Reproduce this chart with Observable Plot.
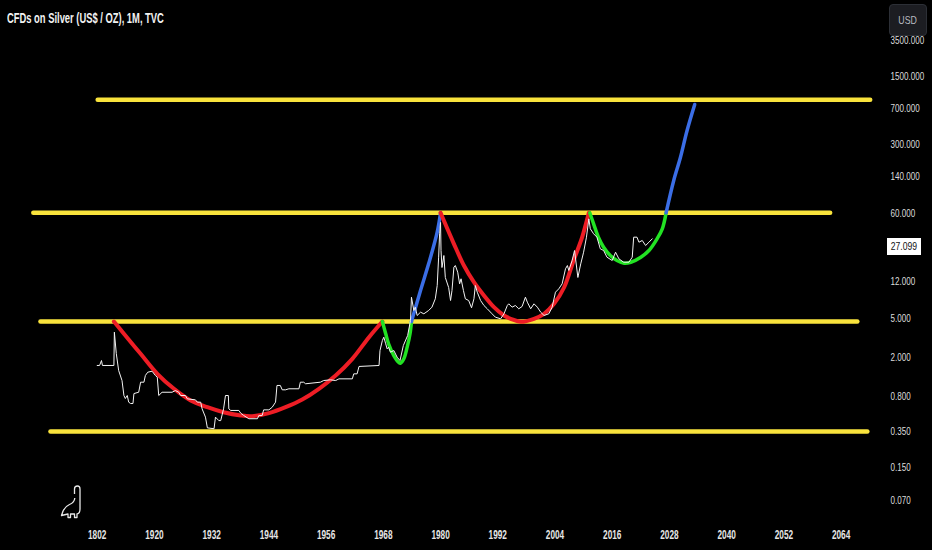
<!DOCTYPE html>
<html>
<head>
<meta charset="utf-8">
<script src="https://cdn.jsdelivr.net/npm/d3@7"></script>
<script src="https://cdn.jsdelivr.net/npm/@observablehq/plot@0.6"></script>
<style>
  html, body { margin: 0; padding: 0; background: #000; }
  #wrap { position: relative; width: 932px; height: 550px; overflow: hidden; background: #000; }
  #title { position: absolute; left: 7px; top: 10px; color: #f2f2f2; font: 600 14px "Liberation Sans", Arial, sans-serif; white-space: nowrap; transform: scaleX(0.67); transform-origin: left center; }
  #usd { position: absolute; left: 889px; top: 4px; width: 38px; height: 32px; box-sizing: border-box; background: #1c1d22; border: 1px solid #2c2f36; border-radius: 4px; color: #b8bac0; font: 11px "Liberation Sans", Arial, sans-serif; display: flex; align-items: center; justify-content: center; }
  #usd span { display: inline-block; transform: scaleX(0.8); }
  #last { position: absolute; left: 887px; width: 34px; height: 17px; background: #fff; color: #111; font: 11px "Liberation Sans", Arial, sans-serif; display: flex; align-items: center; justify-content: center; }
  #last span { display: inline-block; transform: scaleX(0.78); }
  #dino { position: absolute; left: 0; top: 0; }
</style>
</head>
<body>
<div id="wrap"></div>
<script>
// ---- axis ticks ----
const xTickYears = [1908, 1920, 1932, 1944, 1956, 1968, 1980, 1992, 2004, 2016, 2028, 2040, 2052, 2064];
const xTickLabels = ["1802", "1920", "1932", "1944", "1956", "1968", "1980", "1992", "2004", "2016", "2028", "2040", "2052", "2064"];
const yTicks = [0.07, 0.15, 0.35, 0.8, 2, 5, 12, 60, 140, 300, 700, 1500, 3500];
const lastPrice = 27.099;

// ---- monthly silver price (approx.) ----
const silverYear = [1908.0,1908.5,1908.9,1909.1,1911.5,1911.6,1912.0,1912.5,1913.2,1913.6,
1913.9,1914.3,1914.6,1915.0,1915.5,1915.7,1916.7,1917.1,1917.8,1918.1,
1918.6,1919.5,1920.2,1920.6,1920.9,1921.6,1923.7,1924.4,1925.1,1925.5,
1926.5,1926.9,1928.6,1929.0,1929.7,1930.0,1930.7,1931.1,1932.5,1932.8,
1933.5,1933.9,1934.5,1934.9,1935.5,1935.6,1936.0,1937.7,1938.1,1938.7,
1939.8,1941.6,1941.9,1942.6,1942.9,1944.0,1944.7,1945.4,1945.7,1946.4,
1946.8,1947.5,1948.2,1950.3,1950.6,1951.3,1951.7,1954.8,1955.5,1956.9,
1958.0,1958.7,1961.5,1961.8,1962.5,1962.9,1967.1,1967.3,1967.8,1968.1,
1968.5,1968.8,1969.1,1969.5,1970.2,1970.9,1971.5,1972.2,1973.1,1973.7,
1973.9,1974.4,1974.7,1975.1,1975.8,1976.5,1977.5,1978.2,1978.9,1979.3,
1979.6,1979.8,1980.0,1980.1,1980.3,1980.7,1981.0,1981.7,1982.1,1982.4,
1982.8,1983.1,1983.6,1984.0,1984.3,1984.8,1985.2,1985.9,1986.5,1987.0,
1987.3,1987.7,1988.4,1989.1,1989.8,1990.8,1991.5,1992.6,1993.3,1994.0,
1994.3,1995.0,1995.7,1996.4,1997.1,1997.8,1998.2,1998.9,1999.6,2000.3,
2001.0,2001.7,2002.7,2003.4,2004.1,2004.8,2005.5,2006.2,2006.6,2006.9,
2007.6,2008.1,2008.8,2009.4,2010.0,2010.6,2011.1,2011.4,2012.1,2012.8,
2013.5,2014.2,2014.9,2016.0,2016.7,2017.4,2018.4,2019.5,2020.2,2020.5,
2021.2,2021.6,2022.3,2023.0,2023.7,2024.4];
const silverPrice = [1.665,1.665,1.871,1.665,1.665,3.643,2.207,1.479,1.169,0.822,
0.7656,0.822,0.703,0.6814,0.6814,0.8606,0.8877,1.124,1.124,1.316,
1.422,1.455,1.316,1.265,0.822,0.8877,0.8877,0.9242,0.8877,0.822,
0.822,0.7598,0.7422,0.703,0.703,0.6004,0.4943,0.3843,0.3761,0.4943,
0.4558,0.4558,0.6004,0.822,0.822,0.6004,0.5785,0.5785,0.5426,0.5143,
0.4761,0.4761,0.5143,0.5143,0.5864,0.5864,0.6241,0.703,1.041,1.041,
0.9395,0.9395,0.9625,0.9625,1.124,1.124,1.083,1.124,1.169,1.188,
1.169,1.216,1.216,1.368,1.368,1.627,1.665,2.367,2.996,3.239,
2.771,2.464,2.559,2.275,2.367,2.023,1.871,2.664,3.370,4.794,
8.287,6.066,6.559,5.393,5.830,5.610,6.066,6.559,7.984,10.91,
21.23,36.79,48.02,24.85,16.66,22.08,13.18,10.41,7.671,9.704,
16.79,17.46,14.93,11.36,12.78,9.704,7.984,7.671,6.463,7.984,
10.91,9.325,7.671,6.821,6.313,5.610,5.184,4.989,5.610,6.821,
7.096,6.559,6.821,6.313,6.664,8.294,7.371,6.313,7.096,6.559,
5.830,5.393,5.610,6.559,9.325,10.10,11.36,16.16,17.46,15.53,
19.65,24.85,13.18,18.16,23.87,33.99,52.35,41.39,36.79,33.99,
25.86,24.85,21.23,19.65,23.87,20.44,18.87,18.87,21.23,33.99,
33.99,30.20,31.44,27.95,30.20,32.71];

// ---- horizontal levels (yellow) ----
const levelPrices = [859, 60.25, 4.682, 0.3533];
const levelStartYears = [1908.1, 1894.6, 1896.1, 1898.2];
const levelEndYears = [2070.1, 2061.7, 2067.4, 2069.5];

// ---- drawn arcs ----
const cup1Years  = [1911.5,1913.6,1917.1,1920.6,1924.1,1927.6,1931.1,1934.5,1938.1,1940.5,1944.0,1947.5,1951.0,1954.5,1958.0,1961.5,1965.0,1967.8];
const cup1Prices = [4.682,3.509,2.189,1.368,0.9625,0.7307,0.6241,0.5546,0.5143,0.5052,0.5426,0.6241,0.7483,0.9625,1.316,1.948,3.239,4.682];
const handle1Years  = [1967.8,1968.5,1969.1,1970.2,1971.2,1971.6,1972.3,1973.0,1973.6,1973.9];
const handle1Prices = [4.682,3.509,2.771,2.104,1.798,1.756,1.948,2.559,3.509,4.682];
const rally1Years  = [1973.9,1975.8,1977.5,1979.3,1980.0];
const rally1Prices = [4.682,9.704,18.16,38.22,60.25];
const cup2Years  = [1980.0,1982.8,1984.9,1987.0,1989.1,1991.2,1993.3,1994.7,1996.8,1999.6,2001.7,2003.8,2005.9,2007.9,2009.7,2011.1];
const cup2Prices = [60.25,29.08,17.46,11.80,8.629,6.559,5.393,4.989,4.648,4.989,5.610,7.096,10.41,19.65,33.99,60.25];
const handle2Years  = [2011.3,2012.1,2013.1,2014.2,2015.6,2017.0,2018.5,2019.9,2022.0,2023.7,2025.4,2026.5,2027.3];
const handle2Prices = [60.25,46.53,33.99,26.87,22.08,19.65,18.44,18.87,21.23,24.85,32.71,41.39,60.25];
const rally2Years  = [2027.3,2028.9,2030.3,2031.7,2033.3];
const rally2Prices = [60.25,128.9,221.2,417.6,769.4];

const YELLOW = "#f9e33c", RED = "#ee1d25", GREEN = "#22e223", BLUE = "#3b6ee6";

const arc = (ys, ps, color, w) => Plot.line(ys, {x: d => d, y: (d, i) => ps[i], stroke: color, strokeWidth: w, curve: "catmull-rom", strokeLinecap: "round"});

const chart = Plot.plot({
  width: 932, height: 550,
  marginTop: 0, marginBottom: 35, marginLeft: 0, marginRight: 52,
  style: {background: "#000", color: "#d9d9d9", fontFamily: "'Liberation Sans', Arial, sans-serif", overflow: "visible"},
  x: {domain: [1887.72, 2072.26], axis: null},
  y: {type: "log", domain: [0.04895, 8868], axis: null},
  marks: [
    Plot.axisX({ticks: xTickYears, tickFormat: d => xTickLabels[xTickYears.indexOf(d)], tickSize: 0, tickPadding: 14.5, fontSize: 12.5, fontWeight: "bold", fill: "#e6e6e6", label: null}),
    Plot.text(yTicks, {y: d => d, text: d => d.toFixed(3), frameAnchor: "right", dx: 10, textAnchor: "start", fontSize: 11, fill: "#dcdcdc"}),
    Plot.link(levelPrices, {x1: (d, i) => levelStartYears[i], x2: (d, i) => levelEndYears[i], y1: d => d, y2: d => d, stroke: YELLOW, strokeWidth: 4.5, strokeLinecap: "round"}),
    arc(cup1Years, cup1Prices, RED, 4),
    arc(handle1Years, handle1Prices, GREEN, 3.5),
    arc(rally1Years, rally1Prices, BLUE, 3.5),
    arc(cup2Years, cup2Prices, RED, 4),
    arc(handle2Years, handle2Prices, GREEN, 3.5),
    arc(rally2Years, rally2Prices, BLUE, 3.5),
    Plot.line(silverYear, {x: d => d, y: (d, i) => silverPrice[i], stroke: "#f4f4f4", strokeWidth: 1})
  ]
});

// condense tick labels (TradingView-like narrow font)
chart.querySelectorAll('g[aria-label="text"] text').forEach(t => {
  const digits = t.textContent.replace(/[^0-9]/g, "").length;
  t.setAttribute("textLength", (digits * 4.5 + 2.2).toFixed(1));
  t.setAttribute("lengthAdjust", "spacingAndGlyphs");
});
chart.querySelectorAll('g[aria-label="x-axis tick label"] text').forEach(t => {
  t.setAttribute("transform", (t.getAttribute("transform") || "") + " scale(0.66,1)");
});

const wrap = document.getElementById("wrap");
wrap.appendChild(chart);

const title = document.createElement("div");
title.id = "title";
title.textContent = "CFDs on Silver (US$ / OZ), 1M, TVC";
wrap.appendChild(title);

const usd = document.createElement("div");
usd.id = "usd";
usd.innerHTML = "<span>USD</span>";
wrap.appendChild(usd);

const last = document.createElement("div");
last.id = "last";
last.style.top = (chart.scale("y").apply(lastPrice) - 8.5) + "px";
last.innerHTML = "<span>" + lastPrice.toFixed(3) + "</span>";
wrap.appendChild(last);

// small logo mark bottom-left
const ns = "http://www.w3.org/2000/svg";
const logo = document.createElementNS(ns, "svg");
logo.setAttribute("id", "dino");
logo.setAttribute("width", "932");
logo.setAttribute("height", "550");
const p = document.createElementNS(ns, "path");
p.setAttribute("d", "M74.5,494 L74.5,489 Q74.5,486 77.5,486 Q80,486 80,489 L80,509 Q80,513.5 77,514 L77,517.5 L74.5,517.5 L74.5,514 L70.5,514 L70.5,517.5 L68,517.5 L68,514 L61.5,515.5 Q63.5,507 69.5,504.5 Q74.5,502.5 74.8,498");
p.setAttribute("fill", "none");
p.setAttribute("stroke", "#e8e8e8");
p.setAttribute("stroke-width", "1.3");
p.setAttribute("stroke-linejoin", "round");
logo.appendChild(p);
wrap.appendChild(logo);
</script>
</body>
</html>
